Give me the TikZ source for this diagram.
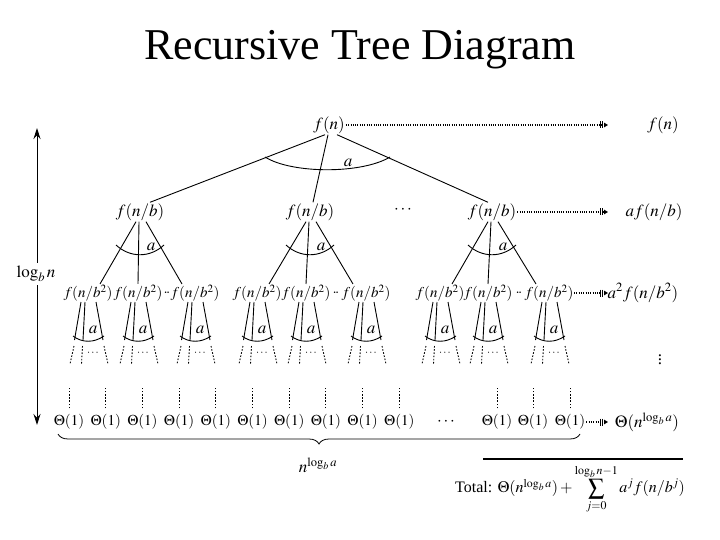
\documentclass[tikz,border=0pt]{standalone}
\usepackage{mathptmx}
\usepackage[no-math]{fontspec}
\setmainfont{Liberation Serif}
\usetikzlibrary{arrows.meta,decorations.pathreplacing}
\begin{document}
\begin{tikzpicture}[x=1pt,y=-1pt,
  lbl/.style={font=\fontsize{17}{20}\selectfont, inner sep=1pt},
  lbltwo/.style={font=\fontsize{15}{18}\selectfont, inner sep=0.5pt},
  leaf/.style={font=\fontsize{15}{18}\selectfont, inner sep=1pt},
  tinydots/.style={font=\fontsize{11}{12}\selectfont, inner sep=0pt},
  edge/.style={line width=0.9pt},
  dotline/.style={line width=0.9pt, dash pattern=on 1.6pt off 1.6pt},
  sumarrow/.style={line width=1.3pt, dash pattern=on 1pt off 1.3pt,
     -{Bar[width=7pt,line width=0.8pt,sep=1pt] Bar[width=7pt,line width=0.8pt,sep=1pt] Triangle[width=4.5pt,length=4pt]}},
  bigarrow/.style={line width=1pt, -{Stealth[length=11pt,width=7pt]}}]
\useasboundingbox (0,0) rectangle (720,540);

% title
\node[font=\fontsize{44}{48}\selectfont, anchor=base, inner sep=0pt] (title) at (360,60) {Recursive Tree Diagram};

% root and level 1
\node[lbl] (root) at (329,125) {$f(n)$};
\node[lbl] (A) at (140,212) {$f(n/b)$};
\node[lbl] (B) at (310,212) {$f(n/b)$};
\node[lbl] (C) at (492,212) {$f(n/b)$};
\node[lbl] (d1) at (403,210) {$\cdots$};

% level 2
\node[lbltwo] (A1) at (88,293) {$f(n/b^2)$};
\node[lbltwo] (A2) at (138,293) {$f(n/b^2)$};
\node[lbltwo] (Ad) at (167,293) {$\cdot\!\cdot$};
\node[lbltwo] (A3) at (195,293) {$f(n/b^2)$};
\node[lbltwo] (B1) at (257,293) {$f(n/b^2)$};
\node[lbltwo] (B2) at (306,293) {$f(n/b^2)$};
\node[lbltwo] (Bd) at (336,293) {$\cdot\!\cdot$};
\node[lbltwo] (B3) at (366,293) {$f(n/b^2)$};
\node[lbltwo] (C1) at (440,293) {$f(n/b^2)$};
\node[lbltwo] (C2) at (488,293) {$f(n/b^2)$};
\node[lbltwo] (Cd) at (519,293) {$\cdot\!\cdot$};
\node[lbltwo] (C3) at (549,293) {$f(n/b^2)$};

% right column
\node[lbl] (r0) at (663,125) {$f(n)$};
\node[lbl] (r1) at (654,212) {$af(n/b)$};
\node[lbl] (r2) at (643,293) {$a^2f(n/b^2)$};
\node[lbl] (r3) at (660,357) {$\vdots$};
\node[lbl] (r4) at (647,422) {$\Theta(n^{\log_b a})$};

% root edges and arc
\draw[edge] ([xshift=-4pt]root.south) -- ([xshift=10pt]A.north);
\draw[edge] ([xshift=-1pt]root.south) -- ([xshift=3pt]B.north);
\draw[edge] ([xshift=8pt]root.south) -- ([xshift=-4pt]C.north);
\draw[edge] (265,157) .. controls (292,174) and (362,174) .. (390,157);
\node[lbl] (a0) at (348,163) {$a$};

% level 1 fans
\foreach \c/\n in {140/A,310/B,492/C}{
  \draw[edge] ([xshift=-4pt]\n.south) -- ([xshift=12pt]\n1.north);
  \draw[edge] ([xshift=-1pt]\n.south) -- (\n2.north);
  \draw[edge] ([xshift=6pt]\n.south) -- ([xshift=-13pt]\n3.north);
  \draw[edge] (\c-24,245) .. controls (\c-10,258) and (\c+10,258) .. (\c+24,245);
  \node[lbl] (a\n) at (\c+11,247) {$a$};
}

% level 2 fans
\foreach \c/\n in {88/A1,138/A2,195/A3,257/B1,306/B2,366/B3,440/C1,488/C2,549/C3}{
  \draw[edge] ([xshift=-7pt]\n.south) -- (\c-13.5,340);
  \draw[edge] ([xshift=-3pt]\n.south) -- (\c-5,340);
  \draw[edge] ([xshift=8pt]\n.south) -- (\c+15,340);
  \draw[dotline] (\c-14,346) -- (\c-18,364);
  \draw[dotline] (\c-5.5,346) -- (\c-6.5,364);
  \draw[dotline] (\c+16,346) -- (\c+20,364);
  \draw[edge] (\c-15,336) .. controls (\c-6,343) and (\c+6,343) .. (\c+16,336);
  \node[lbl] (a\n) at (\c+5,330) {$a$};
  \node[tinydots] (d\n) at (\c+5,353) {$\cdots$};
}

% leaves
\foreach \i/\x in {1/69,2/105.7,3/142.4,4/179.1,5/215.8,6/252.5,7/289.2,8/325.9,9/362.6,10/399.3,11/497,12/533,13/570}{
  \node[leaf] (L\i) at (\x,422) {$\Theta(1)$};
  \draw[dotline] ([yshift=5pt]L\i.north) -- ++(0,-21);
}
\node[lbl] (Ld) at (446,422) {$\cdots$};

% dotted sum arrows
\coordinate (tip) at (608,0);
\draw[sumarrow] (root.east) -- (root.east -| tip);
\draw[sumarrow] (C.east) -- (C.east -| tip);
\draw[sumarrow] (C3.east) -- (C3.east -| tip);
\draw[sumarrow] (L13.east) -- (L13.east -| tip);

% height arrow
\node[lbl, fill=white, inner sep=3pt] (lg) at (36,274) {$\log_b n$};
\coordinate (lt) at (37,128);
\coordinate (lb) at (37,425);
\draw[bigarrow] (lg.north -| lt) -- (lt);
\draw[bigarrow] (lg.south -| lb) -- (lb);

% brace
\coordinate (bl) at (58,434);
\coordinate (br) at (580,434);
\draw[line width=0.8pt, decorate, decoration={brace, mirror, amplitude=10pt}] (bl) -- (br);
\node[lbl] (nl) at (318,465) {$n^{\log_b a}$};

% total
\coordinate (hl) at (483,459);
\coordinate (hr) at (683,459);
\draw[line width=1.3pt] (hl) -- (hr);
\node[font=\fontsize{16}{19}\selectfont, inner sep=0pt] (tot) at (570,489) {Total: $\Theta(n^{\log_b a}) + \displaystyle\sum_{j=0}^{\log_b n-1} a^j f(n/b^j)$};
\end{tikzpicture}
\end{document}
